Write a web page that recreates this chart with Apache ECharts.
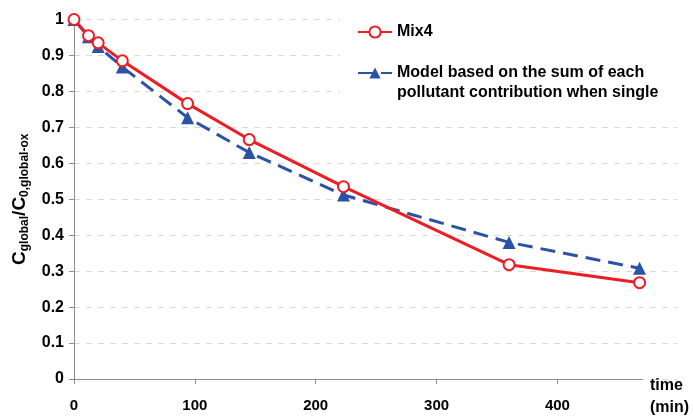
<!DOCTYPE html>
<html>
<head>
<meta charset="utf-8">
<script src="https://cdn.jsdelivr.net/npm/echarts@6/dist/echarts.min.js"></script>
<style>html,body{margin:0;padding:0;background:#fff}#c{width:693px;height:416px}</style>
</head>
<body>
<div id="c"></div>
<script>
const mixTime = [0, 12, 20, 40, 94, 145, 223, 360, 468];
const mixValues = [1.0, 0.955, 0.935, 0.885, 0.766, 0.666, 0.535, 0.318, 0.268];
const modelTime = [0, 12, 20, 40, 94, 145, 223, 360, 468];
const modelValues = [1.0, 0.952, 0.925, 0.868, 0.727, 0.630, 0.512, 0.380, 0.308];
const xTicks = [0, 100, 200, 300, 400];
const seriesNames = ['Mix4', 'Model based on the sum of each\npollutant contribution when single'];

const font = '"Liberation Sans", Arial, sans-serif';
const chart = echarts.init(document.getElementById('c'), null, {renderer: 'canvas'});
const pairs = (xs, ys) => xs.map((x, i) => [x, ys[i]]);
const bold = {fontFamily: font, fontWeight: 'bold', color: '#000'};

chart.setOption({
  animation: false,
  backgroundColor: '#fff',
  textStyle: {fontFamily: font},
  grid: [
    {left: 74, right: 51, top: 19.5, bottom: 37, outerBoundsMode: 'none', containLabel: false},
    {left: 74, right: 16, top: 19.5, bottom: 37, outerBoundsMode: 'none', containLabel: false}
  ],
  graphic: [{type: 'rect', z: 3, shape: {x: 340, y: 0, width: 353, height: 110}, style: {fill: '#fff'}}],
  legend: [
    {
      data: [seriesNames[0]], left: 352, top: 19, orient: 'vertical',
      itemWidth: 34, itemHeight: 14, z: 5,
      textStyle: Object.assign({fontSize: 16}, bold)
    },
    {
      data: [seriesNames[1]], left: 352, top: 38, orient: 'vertical',
      itemWidth: 34, itemHeight: 14, z: 5,
      formatter: name => ' \n' + name,
      textStyle: Object.assign({fontSize: 16, lineHeight: 20}, bold)
    }
  ],
  xAxis: [
    {
      type: 'value', gridIndex: 0, min: 0, max: 470,
      name: '{a|time}\n{b|(min)}', nameLocation: 'end', nameGap: 8,
      nameTextStyle: {align: 'left', verticalAlign: 'top',
        rich: {
          a: Object.assign({fontSize: 16, lineHeight: 14}, bold),
          b: Object.assign({fontSize: 16, lineHeight: 30}, bold)
        }},
      axisLine: {lineStyle: {color: '#8c8c8c', width: 1}},
      axisTick: {show: true, length: 5, inside: false, customValues: xTicks, lineStyle: {color: '#8c8c8c'}},
      axisLabel: Object.assign({customValues: xTicks, margin: 19, fontSize: 15}, bold),
      splitLine: {show: false}
    },
    {type: 'value', gridIndex: 1, min: 0, max: 500, show: false}
  ],
  yAxis: [
    {
      type: 'value', gridIndex: 0, min: 0, max: 1, interval: 0.1,
      name: '{c|C}{s|global}{c|/C}{s|0,global-ox}', nameLocation: 'middle', nameGap: 40, nameRotate: 90,
      nameTextStyle: {
        rich: {
          c: Object.assign({fontSize: 19}, bold),
          s: Object.assign({fontSize: 12, padding: [10, 0, 0, 0]}, bold)
        }
      },
      axisLine: {show: true, lineStyle: {color: '#8c8c8c', width: 1}},
      axisTick: {show: true, length: 5, lineStyle: {color: '#8c8c8c'}},
      axisLabel: Object.assign({margin: 10, fontSize: 16,
        formatter: v => (v === 0 || v === 1) ? String(v) : v.toFixed(1)}, bold),
      splitLine: {show: false}
    },
    {
      type: 'value', gridIndex: 1, min: 0, max: 1, interval: 0.1,
      axisLine: {show: false}, axisTick: {show: false}, axisLabel: {show: false},
      splitLine: {show: true, lineStyle: {color: '#d9d9d9', width: 1, type: [6, 6]}}
    }
  ],
  series: [
    {
      name: seriesNames[0], type: 'line', xAxisIndex: 0, yAxisIndex: 0, z: 3,
      data: pairs(mixTime, mixValues),
      lineStyle: {color: '#ee1d24', width: 3},
      itemStyle: {color: '#fff', borderColor: '#ee1d24', borderWidth: 2},
      symbol: 'circle', symbolSize: 11, showAllSymbol: true
    },
    {
      name: seriesNames[1], type: 'line', xAxisIndex: 0, yAxisIndex: 0, z: 2,
      data: pairs(modelTime, modelValues),
      lineStyle: {color: '#2a52a6', width: 3, type: [15, 8]},
      itemStyle: {color: '#2a52a6', borderWidth: 0},
      symbol: 'triangle', symbolSize: 13, showAllSymbol: true
    }
  ]
});
</script>
</body>
</html>
